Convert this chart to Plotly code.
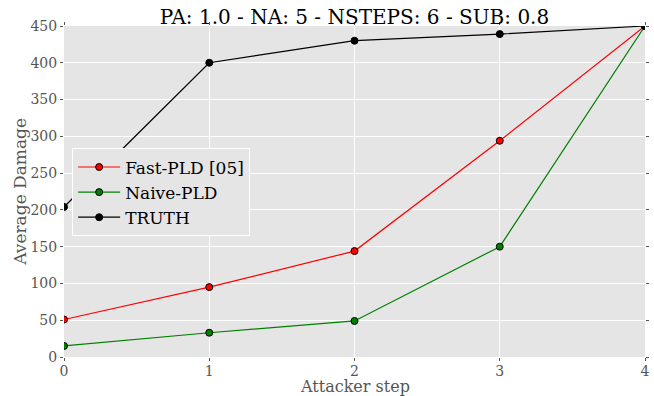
import plotly.graph_objects as go

steps = [0, 1, 2, 3, 4]
fast_pld = [51, 95, 144, 294, 450]
naive_pld = [15, 33, 49, 150, 450]
truth = [204, 400, 430, 439, 450]

series = [
    ("Fast-PLD [05]", fast_pld, "red"),
    ("Naive-PLD", naive_pld, "green"),
    ("TRUTH", truth, "black"),
]

FONT = "DejaVu Serif"
GREY = "#555555"
fig = go.Figure()
for name, vals, col in series:
    fig.add_trace(go.Scatter(
        x=steps, y=vals, name=name, mode="lines+markers",
        line=dict(color=col, width=1.2),
        marker=dict(color=col, size=7, line=dict(color="black", width=1)),
    ))

axis_common = dict(
    showgrid=True, gridcolor="white", gridwidth=1.2,
    zeroline=False, showline=False, automargin=False,
    ticks="outside", ticklen=3, tickcolor=GREY, mirror="ticks",
    tickfont=dict(family=FONT, size=14, color=GREY),
)

fig.update_layout(
    width=654, height=396,
    margin=dict(l=64, r=9, t=26, b=39),
    paper_bgcolor="white", plot_bgcolor="#E5E5E5",
    title=dict(text="PA: 1.0 - NA: 5 - NSTEPS: 6 - SUB: 0.8",
               font=dict(family=FONT, size=20, color="black"),
               x=0.5, xanchor="center", xref="paper", y=0.957, yanchor="middle"),
    xaxis=dict(range=[0, 4], tickvals=steps, ticklabelstandoff=-2, **axis_common),
    yaxis=dict(range=[0, 450], tickvals=list(range(0, 451, 50)), **axis_common),
    legend=dict(x=0.014, y=0.63, xanchor="left", yanchor="top",
                bgcolor="#E5E5E5", bordercolor="white", borderwidth=1,
                itemwidth=42,
                font=dict(family=FONT, size=17, color="black")),
    showlegend=True,
    annotations=[
        dict(text="Attacker step", xref="paper", yref="paper", x=0.5, y=-0.088,
             xanchor="center", yanchor="middle", showarrow=False, borderpad=0,
             font=dict(family=FONT, size=16, color=GREY)),
        dict(text="Average Damage", xref="paper", yref="paper", x=-0.077, y=0.5,
             xanchor="center", yanchor="middle", showarrow=False, textangle=-90,
             font=dict(family=FONT, size=17, color=GREY)),
    ],
)

fig.write_html("out.html")
